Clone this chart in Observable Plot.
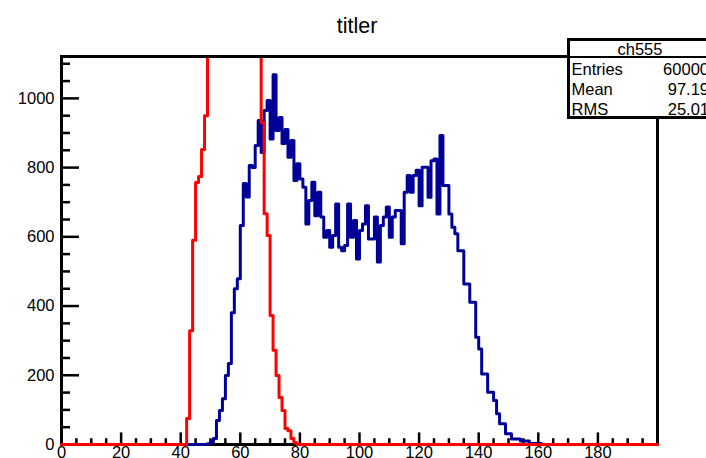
<!DOCTYPE html>
<html><head><meta charset="utf-8">
<script src="https://cdn.jsdelivr.net/npm/d3@7"></script>
<script src="https://cdn.jsdelivr.net/npm/@observablehq/plot@0.6"></script>
<style>
html,body{margin:0;padding:0;overflow:hidden;background:#fff;width:706px;height:458px;}
body{font-family:"Liberation Sans",Arial,Helvetica,sans-serif;position:relative;color:#000;}
#title{height:40px;position:relative;}
#title span{position:absolute;left:257px;width:200px;text-align:center;top:13px;font-size:21.5px;line-height:26px;}
#stats{position:absolute;left:567px;top:38px;width:150px;height:81px;border:3px solid #000;box-sizing:border-box;background:#fff;font-size:16.5px;line-height:20px;}
#stats .hd{position:absolute;left:0;top:0;width:150px;height:15px;border-bottom:2px solid #000;}
#stats .t{position:absolute;left:20px;width:100px;text-align:center;top:-1.7px;}
#stats .l{position:absolute;left:1.5px;}
#stats .v{position:absolute;left:0;width:139px;text-align:right;}
#chart svg{display:block;}
</style></head>
<body>
<div id="title"><span id="ttl"></span></div>
<div id="chart"></div>
<div id="stats"></div>
<script>
// ---- data ----
const titleText = "titler";
const histName = "ch555";
const statLabels = ["Entries", "Mean", "RMS"];
const statValues = ["60000", "97.19", "25.01"];

const xTickLabels = [0, 20, 40, 60, 80, 100, 120, 140, 160, 180];
const yTickLabels = [0, 200, 400, 600, 800, 1000];

const nBins = 200;           // bins of width 1 from 0 to 200
const yTop = 1121;

// blue histogram (ch555), first bin 49
const blueStart = 49;
const blueCounts = [2, 8, 17, 69, 98, 132, 199, 234, 381, 450,
  479, 633, 754, 715, 806, 800, 864, 936, 844, 965,
  994, 883, 1068, 907, 945, 870, 910, 830, 878, 763,
  811, 767, 743, 637, 705, 758, 661, 729, 657, 599,
  618, 570, 604, 695, 570, 560, 575, 695, 599, 647,
  536, 618, 637, 690, 594, 594, 657, 527, 633, 657,
  686, 599, 657, 676, 676, 580, 729, 777, 729, 777,
  792, 690, 801, 801, 714, 820, 825, 666, 893, 748,
  748, 666, 628, 609, 560, 560, 464, 464, 411, 411,
  310, 276, 204, 204, 151, 151, 127, 89, 60, 60,
  31, 31, 16, 16, 16, 10, 10, 10, 3, 3,
  3, 3, 1];

// red histogram, first bin 42 (central bins run off the top of the frame)
const redStart = 42;
const redCounts = [75, 329, 590, 757, 774, 852, 950,
  1180, 1450, 1800, 2200, 2600, 2950, 3250, 3450, 3550,
  3550, 3450, 3250, 2950, 2600, 2200, 1800, 1450, 1150,
  930, 667, 604, 373, 272, 199, 136, 98, 46, 40, 17, 5];

// ---- build step outlines ----
function outline(start, counts) {
  const c = new Array(nBins).fill(0);
  counts.forEach((v, i) => { c[start + i] = v; });
  const pts = c.map((v, k) => ({x: k, y: v}));
  pts.push({x: nBins, y: c[nBins - 1]});
  return pts;
}
const bluePts = outline(blueStart, blueCounts);
const redPts = outline(redStart, redCounts);

const W = 706, H = 424, mT = 16, mB = 20, mL = 61, mR = 49;
const fW = W - mL - mR, fH = H - mT - mB;

const xMinor = d3.range(5, 200, 5).filter(v => v % 20 !== 0);
const xMajor = d3.range(20, 200, 20);
const yMinor = d3.range(50, yTop, 50).filter(v => v % 200 !== 0);
const yMajor = d3.range(200, yTop, 200);

const chart = Plot.plot({
  width: W, height: H,
  marginTop: mT, marginBottom: mB, marginLeft: mL, marginRight: mR,
  style: {fontFamily: '"Liberation Sans", Arial, Helvetica, sans-serif', fontSize: "16.5px", color: "black", background: "white"},
  x: {domain: [0, nBins], ticks: xTickLabels, tickFormat: d => String(d), tickSize: 0, tickPadding: 2, label: null},
  y: {domain: [0, yTop], clamp: true, ticks: yTickLabels, tickFormat: d => String(d), tickSize: 0, tickPadding: 7, label: null},
  marks: [
    Plot.frame({stroke: "black", strokeWidth: 3}),
    Plot.tickX(xMajor, {x: d => d, insetTop: fH - 11.6, stroke: "black", strokeWidth: 2.5}),
    Plot.tickX(xMinor, {x: d => d, insetTop: fH - 5.8, stroke: "black", strokeWidth: 2.5}),
    Plot.tickY(yMajor, {y: d => d, insetRight: fW - 18, stroke: "black", strokeWidth: 2.5}),
    Plot.tickY(yMinor, {y: d => d, insetRight: fW - 9, stroke: "black", strokeWidth: 2.5}),
    Plot.line(bluePts, {x: "x", y: "y", curve: "step-after", stroke: "#000099", strokeWidth: 3}),
    Plot.line(redPts, {x: "x", y: "y", curve: "step-after", stroke: "#ff0000", strokeWidth: 3}),
    Plot.ruleY([yTop], {stroke: "black", strokeWidth: 3})
  ]
});
document.getElementById("chart").appendChild(chart);
document.getElementById("ttl").textContent = titleText;

// stats box
const st = document.getElementById("stats");
let html = `<div class="hd"></div><div class="t">${histName}</div>`;
statLabels.forEach((lab, i) => {
  const top = 18.3 + 20 * i;
  html += `<div class="l" style="top:${top}px">${lab}</div><div class="v" style="top:${top}px">${statValues[i]}</div>`;
});
st.innerHTML = html;
</script>
</body></html>
